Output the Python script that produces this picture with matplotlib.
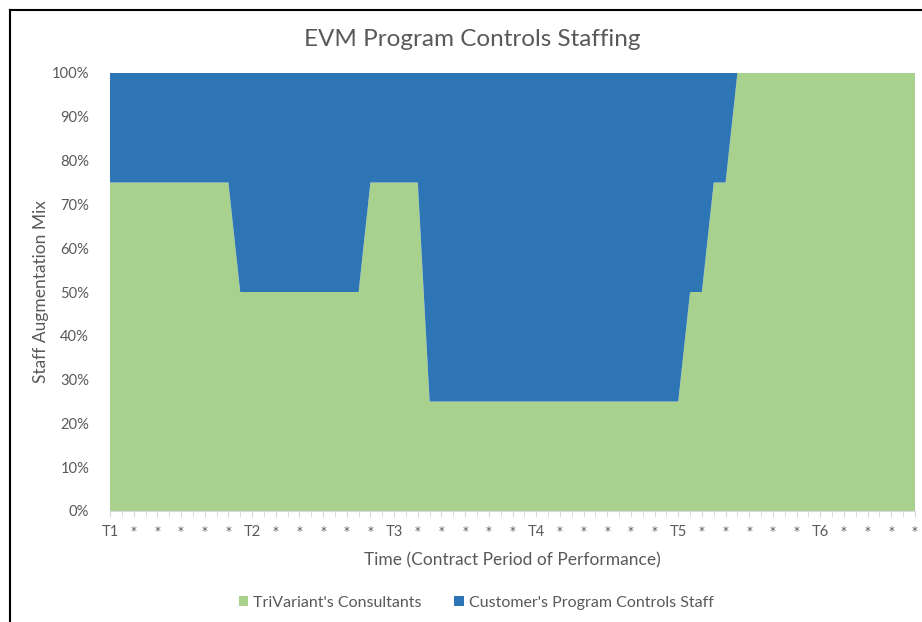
import matplotlib
matplotlib.use("Agg")
import matplotlib.pyplot as plt
from matplotlib.lines import Line2D
from matplotlib.patches import Patch
from matplotlib.ticker import FuncFormatter

# ---- data ----
tick_labels = ["T1", "*", "*", "*", "*", "*",
               "T2", "*", "*", "*", "*", "*",
               "T3", "*", "*", "*", "*", "*",
               "T4", "*", "*", "*", "*", "*",
               "T5", "*", "*", "*", "*", "*",
               "T6", "*", "*", "*", "*"]

trivariant = [75, 75, 75, 75, 75, 75, 75, 75, 75, 75, 75,
              50, 50, 50, 50, 50, 50, 50, 50, 50, 50, 50,
              75, 75, 75, 75, 75,
              25, 25, 25, 25, 25, 25, 25, 25, 25, 25, 25,
              25, 25, 25, 25, 25, 25, 25, 25, 25, 25, 25,
              50, 50,
              75, 75,
              100, 100, 100, 100, 100, 100, 100, 100,
              100, 100, 100, 100, 100, 100, 100, 100]

customer = [25, 25, 25, 25, 25, 25, 25, 25, 25, 25, 25,
            50, 50, 50, 50, 50, 50, 50, 50, 50, 50, 50,
            25, 25, 25, 25, 25,
            75, 75, 75, 75, 75, 75, 75, 75, 75, 75, 75,
            75, 75, 75, 75, 75, 75, 75, 75, 75, 75, 75,
            50, 50,
            25, 25,
            0, 0, 0, 0, 0, 0, 0, 0,
            0, 0, 0, 0, 0, 0, 0, 0]

series_names = ["TriVariant's Consultants", "Customer's Program Controls Staff"]

# ---- style ----
GREEN = "#A9D18E"
BLUE = "#2E75B6"
TEXT = "#595959"
FONT = ["Lato", "DejaVu Sans"]
plt.rcParams["font.family"] = FONT

W, H = 922, 622
fig = plt.figure(figsize=(W / 100, H / 100), dpi=100)
ax = fig.add_axes([110 / W, (H - 511) / H, (915 - 110) / W, (511 - 73) / H])

x = list(range(len(trivariant)))
ax.stackplot(x, [v / 100 for v in trivariant], [v / 100 for v in customer],
             colors=[GREEN, BLUE], linewidth=0)

ax.set_xlim(0, len(x) - 1)
ax.set_ylim(0, 1)

ax.set_yticks([i / 10 for i in range(11)])
ax.yaxis.set_major_formatter(FuncFormatter(lambda v, p: f"{v*100:.0f}%"))
ax.tick_params(axis="y", length=0, pad=15, labelsize=10.6, labelcolor=TEXT)

ax.set_xticks(list(range(0, len(x), 2)))
ax.set_xticklabels(tick_labels)
ax.set_xticks(list(range(len(x))), minor=True)
ax.tick_params(axis="x", which="major", length=4, color="#D9D9D9", labelsize=10.6,
               labelcolor=TEXT, pad=6)
ax.tick_params(axis="x", which="minor", length=4, color="#D9D9D9")
for lbl in ax.get_xticklabels():
    if lbl.get_text() == "*":
        lbl.set_fontfamily(["DejaVu Sans"])
        lbl.set_fontsize(8.5)

for s in ["top", "right", "left"]:
    ax.spines[s].set_visible(False)
ax.spines["bottom"].set_color("#D9D9D9")

ax.set_ylabel("Staff Augmentation Mix", fontsize=12.5, color=TEXT, labelpad=2)
ax.set_xlabel("Time (Contract Period of Performance)", fontsize=12.5, color=TEXT, labelpad=10)

fig.text(472 / W, 1 - 40 / H, "EVM Program Controls Staffing", fontsize=17.5,
         color=TEXT, ha="center", va="center")

handles = [Patch(facecolor=GREEN), Patch(facecolor=BLUE)]
fig.legend(handles, series_names, loc="center", bbox_to_anchor=(476 / W, 1 - 603 / H),
           ncol=2, frameon=False, fontsize=11.5, labelcolor=TEXT, handlelength=0.6,
           handleheight=0.6, handletextpad=0.3, columnspacing=2.05)

# chart border (top and left visible)
fig.add_artist(Line2D([10 / W, 10 / W], [0, 1 - 10 / H], color="black", linewidth=1.5,
                      transform=fig.transFigure))
fig.add_artist(Line2D([10 / W, 1], [1 - 10 / H, 1 - 10 / H], color="black", linewidth=1.5,
                      transform=fig.transFigure))

fig.savefig("out.png", dpi=100)
